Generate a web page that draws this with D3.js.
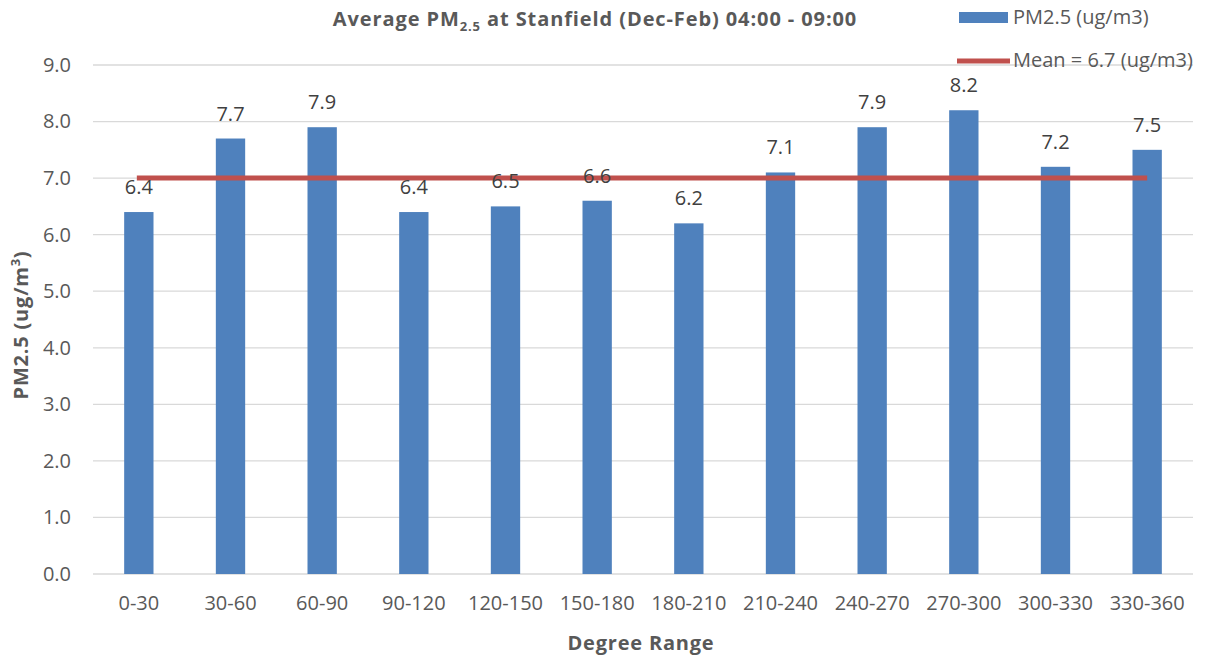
<!DOCTYPE html>
<html>
<head>
<meta charset="utf-8">
<script src="https://cdn.jsdelivr.net/npm/d3@7"></script>
<style>
  body { margin: 0; background: #fff; }
  text { font-family: "Open Sans", "Noto Sans", sans-serif; }
</style>
</head>
<body>
<div id="chart"></div>
<script>
var categories = ['0-30', '30-60', '60-90', '90-120', '120-150', '150-180',
                  '180-210', '210-240', '240-270', '270-300', '300-330', '330-360'];
var pmValues = [6.4, 7.7, 7.9, 6.4, 6.5, 6.6, 6.2, 7.1, 7.9, 8.2, 7.2, 7.5];
var meanLevel = 7.0;
var yTicks = [0, 1, 2, 3, 4, 5, 6, 7, 8, 9];
var legendLabels = ['PM2.5 (ug/m3)', 'Mean = 6.7 (ug/m3)'];

var width = 1214,
    height = 658;
var margin = {left: 93, right: 21, top: 65, bottom: 84};

var svg = d3.select('#chart').append('svg')
            .attr('width', width)
            .attr('height', height);

var x = d3.scaleBand()
          .domain(categories)
          .range([margin.left, width - margin.right])
          .paddingInner(0.68)
          .paddingOuter(0.34);

var y = d3.scaleLinear()
          .domain([0, 9])
          .range([height - margin.bottom, margin.top]);

// gridlines
svg.append('g').selectAll('line')
   .data(yTicks)
   .enter().append('line')
   .attr('x1', margin.left)
   .attr('x2', width - margin.right)
   .attr('y1', function(d) { return y(d); })
   .attr('y2', function(d) { return y(d); })
   .attr('stroke', '#d9d9d9')
   .attr('stroke-width', 1.3);

// y axis labels
var yAxis = d3.axisLeft(y).tickValues(yTicks).tickFormat(d3.format('.1f')).tickSize(0).tickPadding(0);
svg.append('g')
   .attr('transform', 'translate(' + 71 + ',0)')
   .call(yAxis)
   .call(function(g) { g.select('.domain').remove(); })
   .selectAll('text')
   .attr('font-size', 20)
   .attr('fill', '#595959')
   .style('font-family', '"Open Sans", sans-serif');

// x axis labels
var xAxis = d3.axisBottom(x).tickSize(0).tickPadding(0);
svg.append('g')
   .attr('transform', 'translate(0,' + (y(0) + 22) + ')')
   .call(xAxis)
   .call(function(g) { g.select('.domain').remove(); })
   .selectAll('text')
   .attr('font-size', 20)
   .attr('fill', '#595959')
   .style('font-family', '"Open Sans", sans-serif');

// bars
svg.append('g').selectAll('rect')
   .data(pmValues)
   .enter().append('rect')
   .attr('x', function(d, i) { return x(categories[i]); })
   .attr('y', function(d) { return y(d); })
   .attr('width', x.bandwidth())
   .attr('height', function(d) { return y(0) - y(d); })
   .attr('fill', '#4f81bd');

// mean line
var first = categories[0], last = categories[categories.length - 1];
svg.append('line')
   .attr('x1', x(first) + x.bandwidth() / 2 - 2)
   .attr('x2', x(last) + x.bandwidth() / 2)
   .attr('y1', y(meanLevel))
   .attr('y2', y(meanLevel))
   .attr('stroke', '#c0504d')
   .attr('stroke-width', 5);

// value labels
svg.append('g').selectAll('text')
   .data(pmValues)
   .enter().append('text')
   .attr('x', function(d, i) { return x(categories[i]) + x.bandwidth() / 2; })
   .attr('y', function(d) { return y(d) - 18; })
   .attr('text-anchor', 'middle')
   .attr('font-size', 20)
   .attr('fill', '#404040')
   .text(function(d) { return d.toFixed(1); });

// title
var title = svg.append('text')
   .attr('x', 595)
   .attr('y', 26)
   .attr('text-anchor', 'middle')
   .attr('font-size', 20)
   .attr('font-weight', 'bold')
   .attr('letter-spacing', 0.9)
   .attr('fill', '#595959');
title.append('tspan').text('Average PM');
title.append('tspan').attr('font-size', 13).attr('dy', 5).text('2.5');
title.append('tspan').attr('dy', -5).text(' at Stanfield (Dec-Feb) 04:00 - 09:00');

// axis titles
svg.append('text')
   .attr('x', 641)
   .attr('y', 650)
   .attr('text-anchor', 'middle')
   .attr('font-size', 20)
   .attr('font-weight', 'bold')
   .attr('letter-spacing', 0.8)
   .attr('fill', '#595959')
   .text('Degree Range');

var yt = svg.append('text')
   .attr('transform', 'translate(28,' + 325 + ') rotate(-90)')
   .attr('text-anchor', 'middle')
   .attr('font-size', 20)
   .attr('font-weight', 'bold')
   .attr('letter-spacing', 0.8)
   .attr('fill', '#595959');
yt.append('tspan').text('PM2.5 (ug/m');
yt.append('tspan').attr('font-size', 13).attr('dy', -8).text('3');
yt.append('tspan').attr('dy', 8).text(')');

// legend
var legend = svg.append('g');
legend.append('rect')
      .attr('x', 959).attr('y', 12)
      .attr('width', 49).attr('height', 11)
      .attr('fill', '#4f81bd');
legend.append('line')
      .attr('x1', 957).attr('x2', 1010)
      .attr('y1', 61).attr('y2', 61)
      .attr('stroke', '#c0504d').attr('stroke-width', 5);
legend.selectAll('text.leg')
      .data(legendLabels)
      .enter().append('text')
      .attr('class', 'leg')
      .attr('x', 1013)
      .attr('y', function(d, i) { return 24 + i * 43; })
      .attr('font-size', 20)
      .attr('fill', '#595959')
      .text(function(d) { return d; });
</script>
</body>
</html>
